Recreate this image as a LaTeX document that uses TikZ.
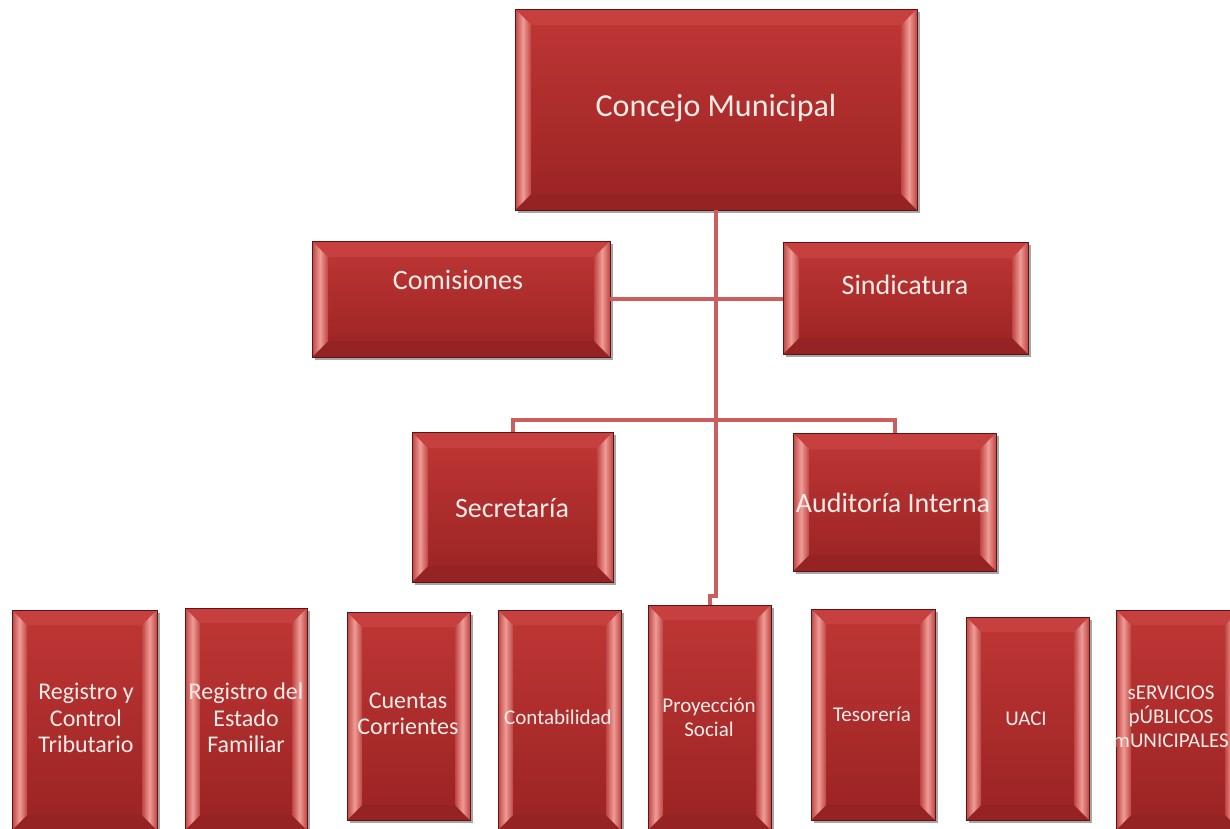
\documentclass[tikz,border=0pt]{standalone}
\usepackage{fontspec}
\setmainfont{Carlito}
\usetikzlibrary{shadows,calc}
\definecolor{facetop}{HTML}{BF3735}
\definecolor{facebot}{HTML}{9A2323}
\definecolor{edgec}{HTML}{5E1414}
\definecolor{bevlight}{HTML}{EE9C96}
\definecolor{bevmid}{HTML}{C04442}
\definecolor{bevtop}{HTML}{C5403E}
\definecolor{bevbot}{HTML}{952323}
\definecolor{connc}{HTML}{CC5F5E}
\definecolor{txtc}{HTML}{F7ECE8}
\tikzset{
  orgbox/.style={rectangle, draw=edgec, line width=0.8pt, outer sep=0pt, inner sep=0pt,
    top color=facetop, bottom color=facebot,
    drop shadow={shadow xshift=3pt, shadow yshift=-3pt, opacity=0.35, fill=black}},
  bevside/.style={left color=bevmid, right color=bevmid, middle color=bevlight},
  bevtopf/.style={fill=bevtop},
  bevbotf/.style={fill=bevbot},
  connector/.style={draw=connc, line width=4pt},
  lbl/.style={text=txtc, align=center, inner sep=0pt},
  fbig/.style={font=\fontsize{32}{35}\selectfont},
  fmid/.style={font=\fontsize{28}{31}\selectfont},
  frow/.style={font=\fontsize{24}{26.5}\selectfont},
  fsmall/.style={font=\fontsize{21}{24}\selectfont},
}
\newcommand\bevelbox[2]{%
  \path[bevtopf] (#1.north west) -- (#1.north east) -- ($(#1.north east)+(-#2,#2)$) -- ($(#1.north west)+(#2,#2)$) -- cycle;
  \path[bevbotf] (#1.south west) -- (#1.south east) -- ($(#1.south east)+(-#2,-#2)$) -- ($(#1.south west)+(#2,-#2)$) -- cycle;
  \path[bevside] (#1.north west) -- (#1.south west) -- ($(#1.south west)+(#2,-#2)$) -- ($(#1.north west)+(#2,#2)$) -- cycle;
  \path[bevside] (#1.north east) -- (#1.south east) -- ($(#1.south east)+(-#2,-#2)$) -- ($(#1.north east)+(-#2,#2)$) -- cycle;
  \draw[edgec, line width=0.8pt] (#1.north west) rectangle (#1.south east);
}
\begin{document}
\begin{tikzpicture}[x=1pt, y=-1pt]
\fill[white] (0,0) rectangle (1230,828);
\useasboundingbox (0,0) rectangle (1230,828);

% boxes
\node[orgbox, minimum width=402pt, minimum height=201pt] (concejo) at (716,109.5) {};
\node[orgbox, minimum width=298pt, minimum height=116pt] (comis) at (461,299) {};
\node[orgbox, minimum width=245pt, minimum height=112pt] (sind) at (905.5,298) {};
\node[orgbox, minimum width=201pt, minimum height=150pt] (secre) at (512.5,507) {};
\node[orgbox, minimum width=203pt, minimum height=138pt] (audit) at (894.5,502) {};
\node[orgbox, minimum width=145pt, minimum height=220pt] (reg1) at (84.5,720) {};
\node[orgbox, minimum width=122pt, minimum height=222pt] (reg2) at (246,719) {};
\node[orgbox, minimum width=123pt, minimum height=208pt] (cuentas) at (408.5,716) {};
\node[orgbox, minimum width=123pt, minimum height=220pt] (contab) at (559.5,720) {};
\node[orgbox, minimum width=123pt, minimum height=225pt] (proy) at (709.5,717.5) {};
\node[orgbox, minimum width=124pt, minimum height=211pt] (teso) at (873,714.5) {};
\node[orgbox, minimum width=123pt, minimum height=203pt] (uaci) at (1027.5,718.5) {};
\node[orgbox, minimum width=124pt, minimum height=220pt] (serv) at (1178,720) {};

\bevelbox{concejo}{16}
\bevelbox{comis}{16}
\bevelbox{sind}{16}
\bevelbox{secre}{16}
\bevelbox{audit}{16}
\bevelbox{reg1}{15}
\bevelbox{reg2}{15}
\bevelbox{cuentas}{15}
\bevelbox{contab}{15}
\bevelbox{proy}{15}
\bevelbox{teso}{15}
\bevelbox{uaci}{15}
\bevelbox{serv}{15}

% connectors
\draw[connector] (concejo.south) |- ($(proy.north)+(0,-9)$) -- (proy.north);
\draw[connector] (comis.east) -- (comis.east -| sind.west);
\draw[connector] (secre.north) -- ++(0,-12) -| (audit.north);

% labels
\node[lbl, fbig] (tconcejo) at (716,108) {Concejo Municipal};
\node[lbl, fmid] (tcomis) at (458,280) {Comisiones};
\node[lbl, fmid] (tsind) at (905,285) {Sindicatura};
\node[lbl, fmid] (tsecre) at (512,508) {Secretaría};
\node[lbl, fmid] (taudit) at (893,503) {Auditoría Interna};
\node[lbl, frow] (treg1) at (86,718) {Registro y\\Control\\Tributario};
\node[lbl, frow] (treg2) at (246,718) {Registro del\\Estado\\Familiar};
\node[lbl, frow] (tcuentas) at (408,714) {Cuentas\\Corrientes};
\node[lbl, fsmall] (tcontab) at (558,717) {Contabilidad};
\node[lbl, fsmall] (tproy) at (709,717) {Proyección\\Social};
\node[lbl, fsmall] (tteso) at (872,714) {Tesorería};
\node[lbl, fsmall] (tuaci) at (1026,719) {UACI};
\node[lbl, fsmall] (tserv) at (1171,717) {sERVICIOS\\pÚBLICOS\\mUNICIPALES};
\end{tikzpicture}
\end{document}
